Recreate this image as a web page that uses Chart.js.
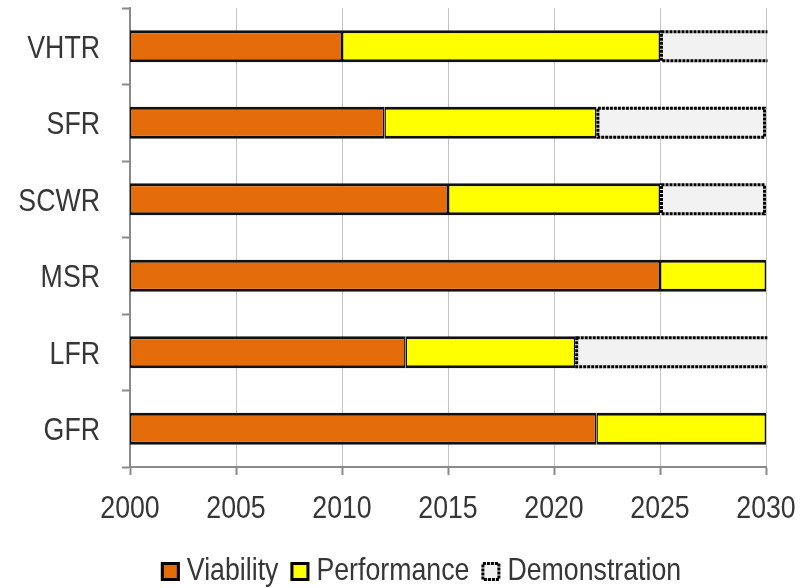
<!DOCTYPE html>
<html>
<head>
<meta charset="utf-8">
<script src="https://cdn.jsdelivr.net/npm/chart.js@4"></script>
<style>
  html, body { margin: 0; padding: 0; background: #ffffff; }
  #wrap { width: 811px; height: 588px; }
</style>
</head>
<body>
<div id="wrap"><canvas id="c" width="811" height="588"></canvas></div>
<script>
// Reactor systems and the year each R&D phase ends
const categories = ['VHTR', 'SFR', 'SCWR', 'MSR', 'LFR', 'GFR'];
const phaseStart = 2000;
const viabilityEnd = [2010, 2012, 2015, 2025, 2013, 2022];
const performanceEnd = [2025, 2022, 2025, 2030, 2021, 2030];
const demonstrationEnd = [2032, 2030, 2030, null, 2032, null];
const yearTicks = [2000, 2005, 2010, 2015, 2020, 2025, 2030];
const phaseNames = ['Viability', 'Performance', 'Demonstration'];

const FONT = '32px "Liberation Sans", Arial, sans-serif';
const NARROW = 0.835;            // horizontal squeeze for a narrow face
const TEXT_COLOR = '#363636';
const AXIS_COLOR = '#8a8a8a';

const viabilityData = categories.map((c, i) => [phaseStart, viabilityEnd[i]]);
const performanceData = categories.map((c, i) => [viabilityEnd[i], performanceEnd[i]]);
const demonstrationData = categories.map((c, i) =>
  demonstrationEnd[i] == null ? null : [performanceEnd[i], demonstrationEnd[i]]);

const solidEdge = { top: 3, bottom: 3, left: 1.5, right: 1.5 };
const DOTS = [3, 1];

function narrowText(ctx, text, x, y, align) {
  ctx.save();
  ctx.translate(x, y);
  ctx.scale(NARROW, 1);
  ctx.textAlign = align;
  ctx.textBaseline = 'alphabetic';
  ctx.fillText(text, 0, 0);
  ctx.restore();
}

// Dotted outline for the demonstration phase, clipped to the plot area
const dottedOutline = {
  id: 'dottedOutline',
  afterDatasetsDraw(chart) {
    const { ctx, chartArea } = chart;
    chart.data.datasets.forEach((ds, di) => {
      if (!ds.dotted) return;
      const meta = chart.getDatasetMeta(di);
      ctx.save();
      ctx.beginPath();
      ctx.rect(chartArea.left, chartArea.top - 2, chartArea.right - chartArea.left + 1.5, chartArea.bottom - chartArea.top + 4);
      ctx.clip();
      ctx.strokeStyle = '#000000';
      ctx.lineWidth = 3;
      ctx.setLineDash(DOTS);
      meta.data.forEach((el, i) => {
        if (ds.data[i] == null) return;
        const p = el.getProps(['x', 'y', 'base', 'height'], true);
        const left = Math.min(p.x, p.base);
        const right = Math.max(p.x, p.base);
        const top = p.y - p.height / 2;
        const lw = ctx.lineWidth / 2;
        ctx.strokeRect(left + lw, top + lw, right - left - 2 * lw, p.height - 2 * lw);
      });
      ctx.restore();
    });
  }
};

// Axis tick labels in a condensed style
const axisLabels = {
  id: 'axisLabels',
  afterDraw(chart) {
    const { ctx } = chart;
    const xs = chart.scales.x, ys = chart.scales.y;
    ctx.save();
    ctx.font = FONT;
    ctx.fillStyle = TEXT_COLOR;
    ys.ticks.forEach((t, i) => {
      narrowText(ctx, ys.getLabelForValue(t.value), ys.right - 30, ys.getPixelForTick(i) + 11.5, 'right');
    });
    xs.ticks.forEach(t => {
      narrowText(ctx, String(t.value), xs.getPixelForValue(t.value), xs.top + 51, 'center');
    });
    ctx.restore();
  }
};

// Legend row under the axis
const phaseLegend = {
  id: 'phaseLegend',
  afterDraw(chart) {
    const { ctx } = chart;
    const box = 19, gap = 7, spacing = 12;
    const cx = 421, cy = 571.5;
    ctx.save();
    ctx.font = FONT;
    const items = chart.data.datasets.map(ds => ({
      text: ds.label, fill: ds.backgroundColor, dotted: !!ds.dotted,
      w: ctx.measureText(ds.label).width * NARROW
    }));
    const total = items.reduce((s, it) => s + box + gap + it.w, 0) + spacing * (items.length - 1);
    let x = cx - total / 2;
    items.forEach(it => {
      ctx.fillStyle = it.fill;
      ctx.fillRect(x, cy - box / 2, box, box);
      ctx.strokeStyle = '#000000';
      ctx.lineWidth = 3;
      ctx.setLineDash(it.dotted ? DOTS : []);
      ctx.strokeRect(x + 1.5, cy - box / 2 + 1.5, box - 3, box - 3);
      ctx.setLineDash([]);
      ctx.fillStyle = TEXT_COLOR;
      narrowText(ctx, it.text, x + box + gap, 580, 'left');
      x += box + gap + it.w + spacing;
    });
    ctx.restore();
  }
};

new Chart(document.getElementById('c'), {
  type: 'bar',
  data: {
    labels: categories,
    datasets: [
      {
        label: phaseNames[0], data: viabilityData, grouped: false,
        backgroundColor: '#E46C0A', borderColor: '#111111',
        borderWidth: solidEdge, borderSkipped: false
      },
      {
        label: phaseNames[1], data: performanceData, grouped: false,
        backgroundColor: '#FFFF00', borderColor: '#111111',
        borderWidth: solidEdge, borderSkipped: false
      },
      {
        label: phaseNames[2], data: demonstrationData, grouped: false, dotted: true,
        backgroundColor: '#F2F2F2', borderWidth: 0
      }
    ]
  },
  options: {
    indexAxis: 'y',
    responsive: false,
    animation: false,
    devicePixelRatio: 1,
    barPercentage: 0.42,
    categoryPercentage: 1.0,
    layout: { padding: { top: 8, right: 45, bottom: 63, left: 0 } },
    plugins: {
      legend: { display: false },
      tooltip: { enabled: false }
    },
    scales: {
      x: {
        type: 'linear',
        min: yearTicks[0],
        max: yearTicks[yearTicks.length - 1],
        afterBuildTicks: s => { s.ticks = yearTicks.map(v => ({ value: v })); },
        afterFit: s => { s.height = 58; },
        grid: {
          color: '#c4c4c4', lineWidth: 1,
          tickColor: AXIS_COLOR, tickLength: 8, tickWidth: 2
        },
        border: { color: AXIS_COLOR, width: 2 },
        ticks: { display: false }
      },
      y: {
        type: 'category',
        afterFit: s => { s.width = 130; },
        grid: {
          offset: true, drawOnChartArea: false,
          tickColor: AXIS_COLOR, tickLength: 8, tickWidth: 2
        },
        border: { color: AXIS_COLOR, width: 2 },
        ticks: { display: false }
      }
    }
  },
  plugins: [dottedOutline, axisLabels, phaseLegend]
});
</script>
</body>
</html>
